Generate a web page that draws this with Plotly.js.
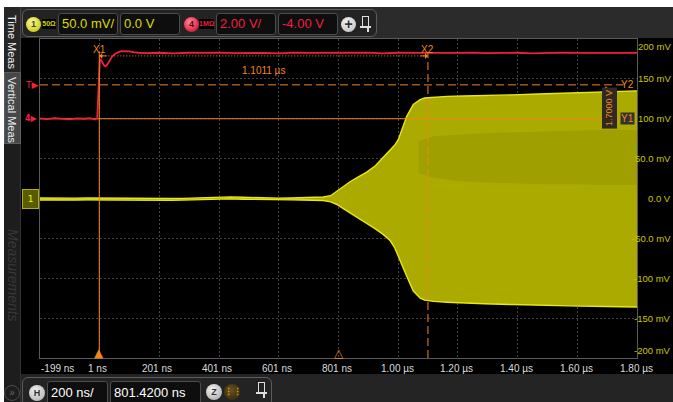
<!DOCTYPE html>
<html><head><meta charset="utf-8">
<script src="https://cdn.plot.ly/plotly-3.0.1.min.js"></script>
<style>
body{margin:0;background:#000;}
#wrap{position:relative;width:673px;height:402px;overflow:hidden;background:#000;font-family:'Liberation Sans',Arial,sans-serif;}
#plot{position:absolute;left:0;top:0;width:673px;height:402px;}
.c{position:absolute;box-sizing:border-box;}
.box{position:absolute;box-sizing:border-box;background:#0e0e0e;border:1px solid #4c4c4c;border-radius:3px;font-size:13px;line-height:20px;padding-left:3px;white-space:nowrap;}
.circ{position:absolute;box-sizing:border-box;border-radius:50%;text-align:center;font-weight:bold;}
.vt{position:absolute;writing-mode:vertical-rl;white-space:nowrap;}
</style></head><body>
<div id="wrap">
<div id="plot"></div>
<!-- chrome -->
<div class="c" style="left:0;top:0;width:673px;height:7px;background:#fff;"></div>
<div class="c" style="left:0;top:0;width:4px;height:402px;background:#fff;"></div>
<div class="c" style="left:21px;top:7px;width:652px;height:31px;background:#2b2b2b;"></div>
<div class="c" style="left:4px;top:7px;width:17px;height:395px;background:#1d1d1d;border-right:1px solid #333;"></div>
<div class="c" style="left:4px;top:7px;width:17px;height:65px;background:#262626;border-right:1px solid #444;"></div>
<div class="vt" style="left:6px;top:15px;color:#f0f0f0;font-size:11px;">Time Meas</div>
<div class="c" style="left:4px;top:72px;width:17px;height:72px;background:#474747;border:1px solid #5e5e5e;"></div>
<div class="vt" style="left:6px;top:77px;color:#e8eef4;font-size:11px;">Vertical Meas</div>
<div class="vt" style="left:5px;top:229px;color:#383838;font-size:14px;font-style:italic;">Measurements</div>
<div class="c" style="left:21px;top:374px;width:652px;height:28px;background:#242424;"></div>
<div class="circ" style="left:4px;top:385px;width:16px;height:16px;border:1px solid #4a4a4a;color:#666;font-size:10px;line-height:14px;font-weight:normal;">»</div>

<div class="c" style="left:22px;top:9px;width:355px;height:28px;border:1px solid #5c5c5c;border-radius:6px;background:#232323;"></div>
<div class="circ" style="left:26px;top:17px;width:15px;height:15px;background:radial-gradient(circle at 40% 35%,#fbfb9a,#d6d630 60%,#a8a810);color:#444;font-size:9px;line-height:15px;">1</div>
<div class="c" style="left:42px;top:19px;width:14px;height:10px;background:#000;color:#d8d800;font-size:7px;font-weight:bold;line-height:10px;text-align:center;">50Ω</div>
<div class="box" style="left:58px;top:13px;width:60px;height:22px;color:#dcdc00;">50.0 mV/</div>
<div class="box" style="left:120px;top:13px;width:60px;height:22px;color:#dcdc00;">0.0 V</div>
<div class="circ" style="left:184px;top:17px;width:15px;height:15px;background:radial-gradient(circle at 40% 35%,#ff8a98,#e0304c 60%,#a01028);color:#6a0010;font-size:9px;line-height:15px;">4</div>
<div class="c" style="left:199px;top:19px;width:15px;height:10px;background:#000;color:#e8203c;font-size:7px;font-weight:bold;line-height:10px;text-align:center;">1MΩ</div>
<div class="box" style="left:216px;top:13px;width:60px;height:22px;color:#f0203c;">2.00 V/</div>
<div class="box" style="left:278px;top:13px;width:60px;height:22px;color:#f0203c;">-4.00 V</div>
<div class="circ" style="left:341px;top:17px;width:15px;height:15px;background:radial-gradient(circle at 40% 35%,#f4f4f4,#b8b8b8);color:#333;font-size:14px;line-height:14px;">+</div>
<div class="c" style="left:362px;top:16px;width:7px;height:10px;border:1.5px solid #ddd;border-bottom:none;"></div>
<div class="c" style="left:360px;top:26px;width:11px;height:1.5px;background:#ddd;"></div>
<div class="c" style="left:367px;top:27px;width:1.5px;height:5px;background:#ddd;"></div>

<div class="c" style="left:22px;top:377px;width:250px;height:30px;border:1px solid #5c5c5c;border-radius:6px;background:#232323;"></div>
<div class="circ" style="left:29px;top:385px;width:16px;height:16px;background:radial-gradient(circle at 40% 35%,#f0f0f0,#a8a8a8);color:#333;font-size:9px;line-height:16px;">H</div>
<div class="box" style="left:47px;top:381px;width:61px;height:24px;color:#fff;line-height:22px;">200 ns/</div>
<div class="box" style="left:110px;top:381px;width:91px;height:24px;color:#fff;line-height:22px;">801.4200 ns</div>
<div class="circ" style="left:206px;top:384px;width:16px;height:16px;background:radial-gradient(circle at 40% 35%,#f4f4f4,#a0a0a0);color:#333;font-size:9px;line-height:16px;">Z</div>
<div class="circ" style="left:224px;top:384px;width:16px;height:16px;background:radial-gradient(circle at 45% 40%,#6a5220,#2a2010);color:#e0a000;font-size:9px;line-height:16px;">⋮⋮</div>
<div class="c" style="left:258px;top:382px;width:7px;height:10px;border:1.5px solid #ddd;border-bottom:none;"></div>
<div class="c" style="left:256px;top:392px;width:11px;height:1.5px;background:#ddd;"></div>
<div class="c" style="left:263px;top:393px;width:1.5px;height:5px;background:#ddd;"></div>
</div>
<script>
// ---- axes / ticks ----
const gridT = [-198.58, 1.42, 201.42, 401.42, 601.42, 801.42, 1001.42, 1201.42, 1401.42, 1601.42, 1801.42];
const timeLabels = ['-199 ns','1 ns','201 ns','401 ns','601 ns','801 ns','1.00 µs','1.20 µs','1.40 µs','1.60 µs','1.80 µs'];
const ch1Ticks = [200,150,100,50,0,-50,-100,-150,-200];
const ch1Labels = ['200 mV','150 mV','100 mV','50.0 mV','0.0 V','-50.0 mV','-100 mV','-150 mV','-200 mV'];

// ---- channel 4 (red), volts ----
const ch4T = [-198.6,-175,-150,-125,-100,-75,-50,-30,-15,-7,-5.5,-4.5,-3,-1.5,0,2,6,10,15,20,25,30,36,42,50,58,66,75,86,100,115,130,160,200,250,300,350,400,450,500,550,600,650,700,750,800,850,900,950,1000,1050,1100,1150,1200,1250,1300,1350,1400,1450,1500,1550,1600,1650,1700,1750,1801.4];
const ch4V = [0.02,-0.02,0.03,0.0,-0.03,0.02,0.0,0.03,-0.04,0.02,0.6,1.4,1.8,2.4,2.8,2.98,2.95,2.82,2.7,2.63,2.68,2.8,2.96,3.1,3.22,3.31,3.36,3.39,3.4,3.38,3.34,3.31,3.29,3.31,3.28,3.31,3.3,3.32,3.29,3.31,3.3,3.28,3.32,3.3,3.31,3.29,3.3,3.32,3.28,3.31,3.3,3.29,3.31,3.3,3.32,3.29,3.3,3.31,3.28,3.3,3.32,3.3,3.29,3.31,3.3,3.3];

// ---- channel 1 (yellow) envelope, mV ----
const ch1T = [-198.6,-160,-120,-80,-40,0,10,40,80,120,160,200,240,280,320,360,400,440,480,520,560,600,640,680,720,750,775,796,815,840,868,896,925,951,975,990,1002,1013,1030,1052,1075,1090,1120,1165,1220,1290,1386,1470,1540,1610,1700,1801.4];
const ch1Upper = [0.6,0.3,0.9,0.5,0.7,0.6,-0.2,-0.3,0.0,-0.4,-0.2,-0.3,0.0,0.2,0.6,1.2,1.8,2.0,1.5,0.9,0.6,0.5,0.7,0.9,1.1,1.8,3.5,9,14,21,27,33,41,51,60,67,74,86.5,103,118,124,126,127,128,128.5,129.5,130,131,132,133,134,135];
const ch1Lower = [-1.8,-2.1,-1.6,-1.9,-1.7,-1.8,-2.5,-2.7,-2.3,-2.6,-2.4,-2.5,-2.3,-2.1,-1.7,-1.1,-0.6,-0.5,-0.9,-1.3,-1.6,-1.8,-1.7,-1.9,-2.1,-2.6,-4.2,-7.5,-12,-18,-24,-30.5,-38,-45,-53,-62,-72,-83,-97.4,-116,-125,-127.5,-129,-130,-131,-132,-133,-134,-134.5,-135,-135.5,-136];

// darker persistence band inside the settled envelope, mV
const bandT = [1070,1120,1200,1300,1400,1500,1600,1700,1801.4];
const bandUpper = [72,78,80,82,83,84,85,86,86];
const bandLower = [32,26,22,20,19,18,18,17,17];

// ---- cursors / markers ----
const cursorX1 = 0, cursorX2 = 1101.1;
const cursorY1 = 0, cursorY2 = 1.7;
const deltaXLabel = '1.1011 µs', deltaYLabel = '1.7000 V';
const trigTime = 0, hPos = 801.42, trigLevel = 1.7;
const yCursorEnd = 1756;

const OR = '#f0861a', RED = '#f0203c';

const traces = [
  {x: ch1T.concat(ch1T.slice().reverse()), y: ch1Upper.concat(ch1Lower.slice().reverse()),
   mode:'lines', fill:'toself', fillcolor:'rgb(170,170,0)', line:{width:0}, hoverinfo:'skip'},
  {x: bandT.concat(bandT.slice().reverse()), y: bandUpper.concat(bandLower.slice().reverse()),
   mode:'lines', fill:'toself', fillcolor:'rgba(95,95,0,0.14)', line:{width:0}, hoverinfo:'skip'},
  {x: ch1T, y: ch1Upper, mode:'lines', line:{color:'rgb(232,232,20)', width:1.4}},
  {x: ch1T, y: ch1Lower, mode:'lines', line:{color:'rgb(232,232,20)', width:1.4}},
  {x:[gridT[0], yCursorEnd], y:[cursorY1,cursorY1], yaxis:'y2', mode:'lines', line:{color:OR,width:1}},
  {x:[gridT[0], yCursorEnd], y:[cursorY2,cursorY2], yaxis:'y2', mode:'lines', line:{color:OR,width:1,dash:'8px,4px'}},
  {x: ch4T, y: ch4V, yaxis:'y2', mode:'lines', line:{color:RED, width:1.8}}
];

const ann = [];
timeLabels.forEach((t,i)=>{
  ann.push({text:t, x:gridT[i], xref:'x', y:0, yref:'paper', yanchor:'top', yshift:-3,
    xanchor: i===0 ? 'left' : 'center', xshift: (i>0 && i<6) ? -2 : -1,
    showarrow:false, font:{color:'#dcdcdc', size:10, family:'Liberation Sans Narrow, Liberation Sans, Arial'}});
});
ch1Labels.forEach((t,i)=>{
  ann.push({text:t, x:1, xref:'paper', xanchor:'right', xshift:36, y:ch1Ticks[i], yref:'y',
    yanchor: i===0 ? 'top' : (i===ch1Labels.length-1 ? 'bottom' : 'middle'),
    showarrow:false, font:{color:'#c8c800', size:9.5, family:'Liberation Sans, Arial'}});
});
const fo = {color:OR, size:10, family:'Liberation Sans Narrow, Liberation Sans, Arial'};
ann.push({text:'X1', x:cursorX1, xref:'x', y:0.981, yref:'paper', yshift:3, showarrow:false, font:fo});
ann.push({text:'X2', x:cursorX2, xref:'x', y:0.981, yref:'paper', yshift:3, showarrow:false, font:fo});
ann.push({text:deltaXLabel, x:(cursorX1+cursorX2)/2, xref:'x', y:0.912, yref:'paper', yshift:4, showarrow:false, font:fo});
ann.push({text:'', x:cursorX1, xref:'x', y:0.947, yref:'paper', ax:9, ay:0, showarrow:true, arrowhead:1, arrowsize:1, arrowwidth:1, arrowcolor:OR});
ann.push({text:'', x:cursorX2, xref:'x', y:0.947, yref:'paper', ax:-9, ay:0, showarrow:true, arrowhead:1, arrowsize:1, arrowwidth:1, arrowcolor:OR});
ann.push({text:'', x:0.948, xref:'paper', y:cursorY1, yref:'y2', ax:0, axref:'pixel', ay:cursorY2, ayref:'y2',
  showarrow:true, arrowhead:1, arrowside:'end+start', arrowsize:1, arrowwidth:1, arrowcolor:OR});
ann.push({text:deltaYLabel, x:0.967, xref:'paper', y:(cursorY1+cursorY2)/2, yref:'y2', yshift:-6, textangle:-90,
  showarrow:false, bgcolor:'#2e2a22', borderpad:2, font:{color:OR, size:9, family:'Liberation Sans, Arial'}});
ann.push({text:'Y2', x:1, xref:'paper', xanchor:'right', xshift:-1, y:cursorY2, yref:'y2', showarrow:false, font:fo});
ann.push({text:'Y1', x:1, xref:'paper', xanchor:'right', xshift:-2, y:cursorY1, yref:'y2', showarrow:false, bgcolor:'#333', borderpad:0, font:fo});
ann.push({text:'▲', x:trigTime, xref:'x', y:0, yref:'paper', yanchor:'bottom', yshift:-4, showarrow:false, font:{color:OR,size:12,family:'DejaVu Sans'}});
ann.push({text:'△', x:hPos, xref:'x', y:0, yref:'paper', yanchor:'bottom', yshift:-4, showarrow:false, font:{color:OR,size:12,family:'DejaVu Sans'}});
ann.push({text:'T▶', x:0, xref:'paper', xanchor:'right', xshift:0, y:trigLevel, yref:'y2', showarrow:false, font:{color:RED,size:9,family:'DejaVu Sans'}});
ann.push({text:'<b>4</b>▶', x:0, xref:'paper', xanchor:'right', xshift:0, y:0, yref:'y2', showarrow:false, font:{color:RED,size:8,family:'DejaVu Sans'}});
ann.push({text:'1', x:0, xref:'paper', xanchor:'right', xshift:-1, y:0, yref:'y', showarrow:false, width:13, height:16,
  bgcolor:'#5a5a00', bordercolor:'#b0b000', borderwidth:1, borderpad:1, font:{color:'#f4f400',size:9,family:'DejaVu Sans'}});

const shapes = [
  {type:'line', xref:'x', yref:'paper', x0:cursorX1, x1:cursorX1, y0:0, y1:0.96, line:{color:OR,width:1}},
  {type:'line', xref:'x', yref:'paper', x0:cursorX2, x1:cursorX2, y0:0, y1:0.96, line:{color:OR,width:1,dash:'8px,4px'}},
  {type:'line', xref:'x', yref:'paper', x0:cursorX1, x1:cursorX2, y0:0.947, y1:0.947, line:{color:OR,width:1,dash:'1px,2px'}}
];

const layout = {
  width:673, height:402, margin:{l:40, r:36, t:39, b:44},
  paper_bgcolor:'rgba(0,0,0,0)', plot_bgcolor:'#000', showlegend:false,
  xaxis:{range:[gridT[0], gridT[gridT.length-1]], tickvals:gridT, showticklabels:false, ticks:'',
    showgrid:true, gridcolor:'#444', griddash:'2px,2px', gridwidth:1, zeroline:false,
    showline:true, mirror:true, linecolor:'#5a5a5a', linewidth:1, fixedrange:true},
  yaxis:{range:[-200,200], tickvals:ch1Ticks, showticklabels:false, ticks:'',
    showgrid:true, gridcolor:'#444', griddash:'2px,2px', gridwidth:1, zeroline:false,
    showline:true, mirror:true, linecolor:'#5a5a5a', linewidth:1, fixedrange:true},
  yaxis2:{range:[-12,4], overlaying:'y', visible:false, fixedrange:true},
  annotations:ann, shapes:shapes
};
Plotly.newPlot('plot', traces, layout, {displayModeBar:false, staticPlot:true});
</script>
</body></html>
